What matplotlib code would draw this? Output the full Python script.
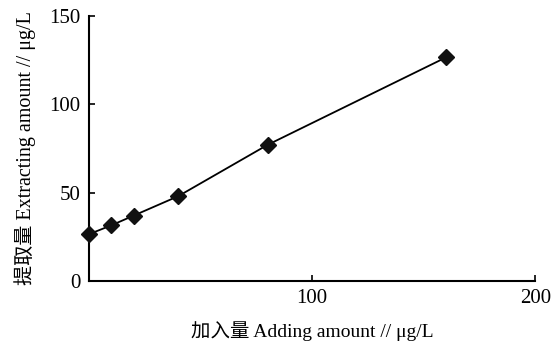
import matplotlib.pyplot as plt

# added vs. extracted amount
adding = [0, 10, 20, 40, 80, 160]
extracting = [26.5, 31.5, 37, 48, 77, 126.5]

xticks = [100, 200]
yticks = [0, 50, 100, 150]

fam = ['Liberation Serif', 'Noto Sans CJK SC']
plt.rcParams['font.family'] = fam

fig = plt.figure(figsize=(5.51, 3.44), dpi=100)
ax = fig.add_axes([0.1615, 0.183, 0.81, 0.771])

ax.plot(adding, extracting, color='black', lw=1.3, marker='D', ms=8,
        markerfacecolor='#111111', markeredgecolor='#111111', clip_on=False, zorder=3)

ax.set_xlim(0, 200)
ax.set_ylim(0, 150)
ax.set_xticks(xticks)
ax.set_yticks(yticks)
ax.tick_params(direction='in', length=4, width=1.2, labelsize=15, pad=6)
for s in ['top', 'right']:
    ax.spines[s].set_visible(False)
for s in ['left', 'bottom']:
    ax.spines[s].set_linewidth(1.5)

ax.set_xlabel('加入量 Adding amount // μg/L', fontsize=14, labelpad=9)
ax.set_ylabel('提取量 Extracting amount // μg/L', fontsize=14.5, labelpad=10)

fig.savefig('out.png', dpi=100)
